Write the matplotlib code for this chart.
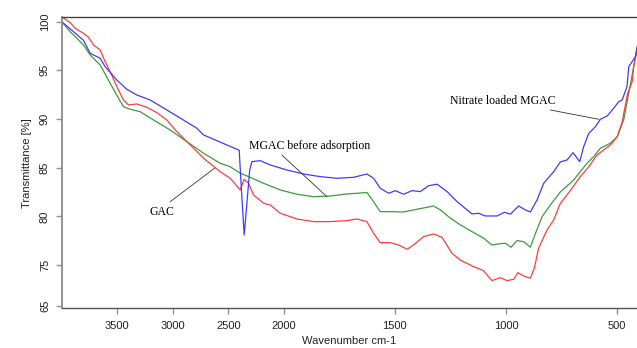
import numpy as np
import matplotlib
matplotlib.use("Agg")
import matplotlib.pyplot as plt

plt.rcParams['font.family'] = ['Liberation Sans', 'DejaVu Sans']

# ---- data ----
wn_nitrate = [4000, 3805, 3744, 3654, 3609, 3504, 3414, 3323, 3204, 3053, 2904, 2783, 2723,
              2423, 2402, 2379, 2357, 2330, 2307, 2287, 2213, 2123, 1986, 1911, 1836, 1761,
              1686, 1626, 1596, 1566, 1528, 1498, 1461, 1423, 1386, 1348, 1310, 1265, 1220,
              1175, 1153, 1123, 1093, 1040, 1007, 980, 943, 913, 890, 860, 830, 785, 755,
              725, 698, 668, 650, 627, 597, 575, 544, 515, 492, 477, 455, 447, 432, 417, 409]
t_nitrate = [100.0, 98.1, 96.76, 96.24, 95.38, 94.01, 93.06, 92.47, 91.96, 90.93, 89.90, 89.06, 88.37,
             86.90, 86.8, 82.2, 78.1, 81.7, 84.8, 85.63, 85.73, 85.29, 84.77, 84.36, 84.09, 83.92,
             84.02, 84.36, 83.92, 82.90, 82.38, 82.65, 82.28, 82.65, 82.55, 83.16, 83.31, 82.55, 81.52,
             80.67, 80.26, 80.33, 80.05, 80.05, 80.43, 80.23, 81.08, 80.67, 80.46, 81.69, 83.41, 84.60, 85.6,
             85.80, 86.55, 85.63, 87.17, 88.54, 89.22, 89.98, 90.32, 91.11, 91.79, 91.96, 93.33, 95.38, 95.89, 96.41, 97.43]

wn_gac = [4000, 3924, 3879, 3805, 3759, 3714, 3654, 3609, 3564, 3504, 3444, 3399, 3323, 3233,
          3143, 3053, 2978, 2873, 2723, 2573, 2483, 2393, 2357, 2318, 2273, 2183, 2123, 2032,
          1941, 1866, 1791, 1716, 1671, 1626, 1596, 1566, 1521, 1483, 1445, 1416, 1371, 1326,
          1288, 1243, 1206, 1146, 1101, 1063, 1025, 995, 965, 947, 920, 890, 872, 853, 815,
          785, 755, 725, 665, 627, 590, 530, 499, 477, 452, 432, 425, 409]
t_gac = [100.51, 99.90, 99.32, 98.81, 98.40, 97.61, 97.09, 95.89, 94.87, 93.33, 91.96, 91.45, 91.55, 91.21,
         90.66, 89.91, 88.88, 87.68, 85.98, 84.60, 83.92, 82.72, 83.82, 83.41, 82.21, 81.36, 81.18, 80.33,
         79.74, 79.47, 79.47, 79.57, 79.74, 79.47, 78.27, 77.31, 77.31, 77.07, 76.63, 77.07, 77.93, 78.20,
         77.86, 76.22, 75.53, 74.85, 74.44, 73.41, 73.72, 73.41, 73.55, 74.23, 73.89, 73.66, 74.71, 76.74, 78.61,
         79.64, 81.36, 82.21, 84.09, 85.11, 86.31, 87.34, 88.19, 89.70, 92.65, 93.8, 95.38, 97.27]

wn_mgac = [4000, 3924, 3864, 3805, 3744, 3654, 3564, 3489, 3444, 3384, 3294, 3174, 3024, 2873,
           2723, 2573, 2483, 2393, 2332, 2183, 2032, 1941, 1866, 1791, 1716, 1671, 1626, 1596,
           1566, 1506, 1461, 1416, 1355, 1326, 1295, 1250, 1205, 1145, 1100, 1063, 1033, 1003,
           977, 950, 920, 890, 867, 837, 800, 755, 695, 635, 605, 575, 530, 499, 470, 447, 425, 409]
t_mgac = [100.0, 98.97, 98.30, 97.61, 96.58, 95.55, 93.68, 92.14, 91.27, 91.01, 90.76, 89.91, 88.88, 87.68,
          86.49, 85.46, 85.11, 84.44, 84.16, 83.41, 82.72, 82.28, 82.03, 82.10, 82.31, 82.38, 82.46, 81.52,
          80.49, 80.49, 80.46, 80.67, 80.94, 81.08, 80.67, 79.82, 79.13, 78.34, 77.76, 77.07, 77.18, 77.25,
          76.84, 77.52, 77.41, 76.84, 78.27, 79.98, 81.18, 82.52, 83.75, 85.46, 86.14, 87.00, 87.52, 88.19, 89.91, 92.65, 95.38, 97.43]

xticks = [3500, 3000, 2500, 2000, 1500, 1000, 500]
yticks = [70.85, 75, 80, 85, 90, 95, 100]
ytick_labels = ['65', '75', '80', '85', '90', '95', '100']


def fwd(x):
    x = np.asarray(x, dtype=float)
    return np.where(x > 2000, 2000 + (x - 2000) * 0.5, x)


def inv(y):
    y = np.asarray(y, dtype=float)
    return np.where(y > 2000, 2000 + (y - 2000) * 2.0, y)


fig = plt.figure(figsize=(6.37, 3.48), dpi=100)
ax = fig.add_axes([0.0969, 0.1141, 1.0 - 0.0969, 0.9503 - 0.1141])
ax.set_xscale('function', functions=(fwd, inv))

ax.plot(wn_mgac, t_mgac, color='#3d9b3d', lw=0.9)
ax.plot(wn_gac, t_gac, color='#ff3c3c', lw=0.9)
ax.plot(wn_nitrate, t_nitrate, color='#3c3cff', lw=0.9)

ax.set_xlim(4000, 410)
ax.set_ylim(70.57, 100.45)

ax.set_xticks(xticks)
ax.set_xticklabels([str(v) for v in xticks])
ax.set_yticks(yticks)
ax.set_yticklabels(ytick_labels, rotation=90, va='center')
ax.minorticks_off()

ax.tick_params(axis='both', direction='out', length=4.5, width=1.0, colors='#909090',
               labelcolor='#222222', labelsize=8, pad=4)
ax.tick_params(axis='x', pad=5)

ax.spines['right'].set_visible(False)
ax.spines['top'].set_color('#404040')
ax.spines['top'].set_linewidth(1.0)
ax.spines['bottom'].set_color('#555555')
ax.spines['bottom'].set_linewidth(1.0)
ax.spines['left'].set_color('#8a8a8a')
ax.spines['left'].set_linewidth(1.3)

ax.set_xlabel('Wavenumber cm-1', fontsize=8, color='#222222', labelpad=3)
ax.set_ylabel('Transmittance [%]', fontsize=8, color='#222222', labelpad=6)

serif = ['Liberation Serif', 'DejaVu Serif']
ax.text(3098, 80.45, 'GAC', fontsize=8.5, family=serif, ha='center', va='center')
ax.plot([3023, 2624], [81.52, 84.95], color='#333333', lw=0.6)

ax.text(1886, 87.24, 'MGAC before adsorption', fontsize=8.5, family=serif, ha='center', va='center')
ax.plot([2017, 1806], [86.3, 82.03], color='#333333', lw=0.6)

ax.text(1016, 91.83, 'Nitrate loaded MGAC', fontsize=8.5, family=serif, ha='center', va='center')
ax.plot([800, 582], [90.93, 89.98], color='#333333', lw=0.6)

fig.savefig('out.png', dpi=100)
